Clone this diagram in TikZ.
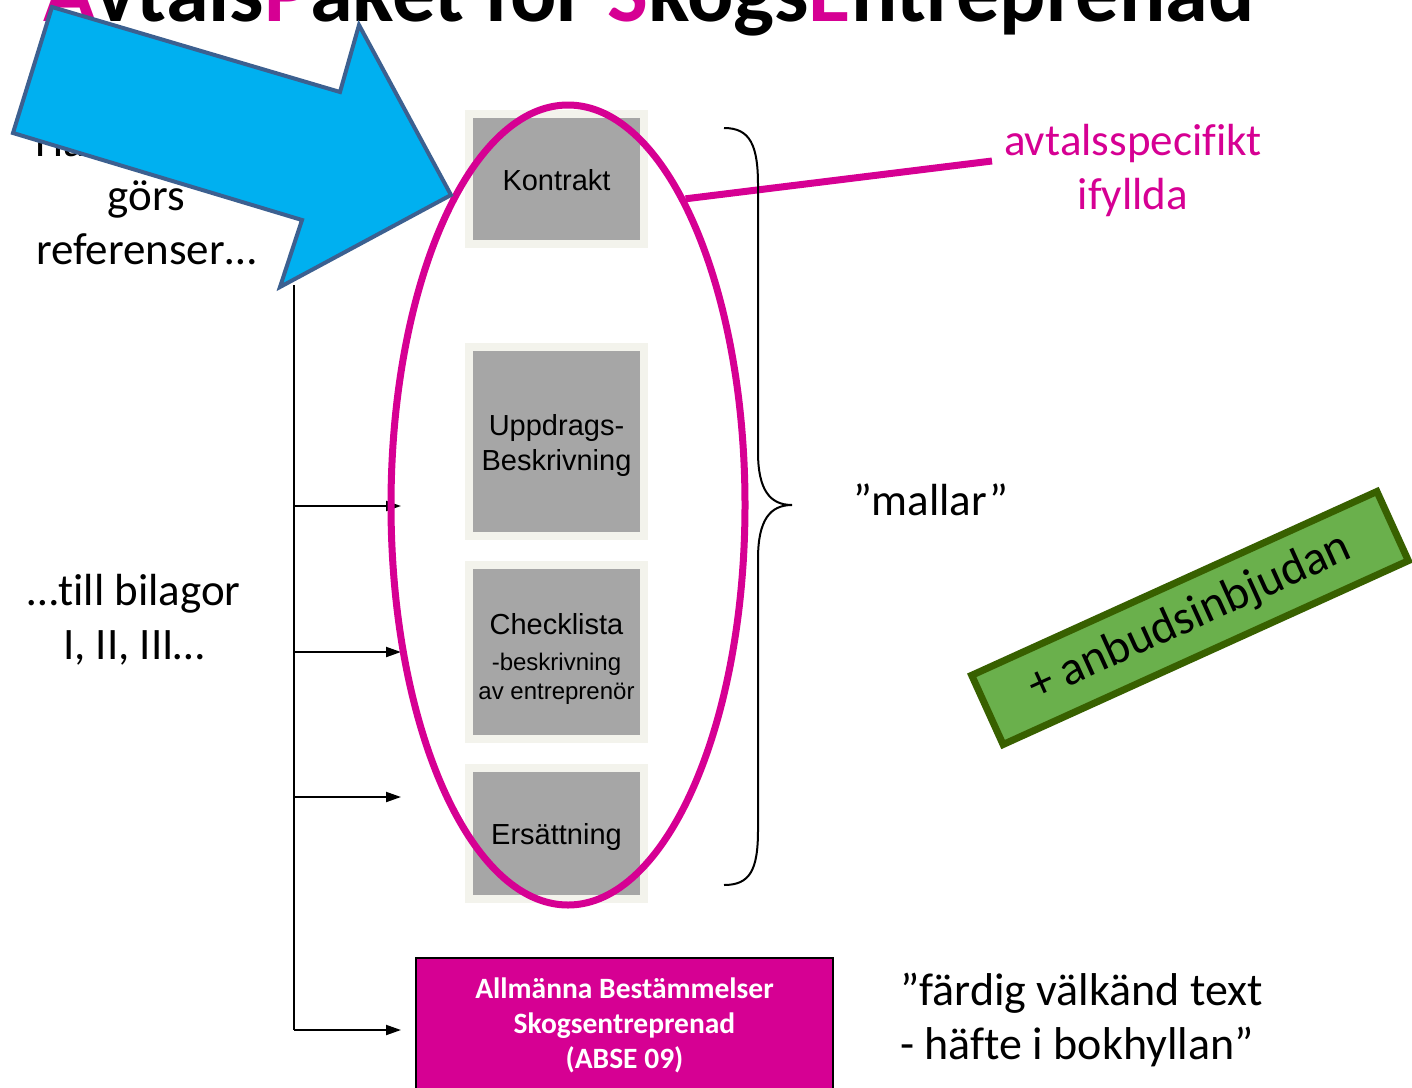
\documentclass[tikz,border=0pt]{standalone}
\usepackage{fontspec}
\setmainfont[Ligatures=NoCommon]{Carlito}
\newfontfamily\arialf{Liberation Sans}
\usetikzlibrary{arrows.meta,shapes.geometric}
\definecolor{mag}{RGB}{214,0,147}
\definecolor{arrowfill}{RGB}{0,176,240}
\definecolor{arrowline}{RGB}{60,96,144}
\definecolor{gfill}{RGB}{106,176,76}
\definecolor{gline}{RGB}{56,96,0}
\definecolor{framecol}{RGB}{243,243,236}
\definecolor{boxgrey}{RGB}{166,166,166}
\begin{document}
\begin{tikzpicture}[x=1pt,y=-1pt,
  doc/.style={draw=framecol, line width=8pt, fill=boxgrey, minimum width=175pt, inner sep=0pt},
  doctxt/.style={align=center, inner sep=0pt, font=\arialf\fontsize{29}{35}\selectfont},
  link/.style={line width=2pt, -{Triangle[length=15pt,width=10pt]}},
  txt/.style={align=center, font=\fontsize{45}{54}\selectfont, inner sep=0pt}
]
\useasboundingbox (0,0) rectangle (1412,1087);
\clip (0,0) rectangle (1412,1087);

% title
\node[anchor=base west, inner sep=0pt, font=\bfseries\fontsize{86.4}{100}\selectfont] (title) at (43,21)
  {{\color{mag}A}vtals{\color{mag}P}aket för {\color{mag}S}kogs{\color{mag}E}ntreprenad};

% left texts
\node[txt] (ref) at (146,195) {Här i avtalet\\görs\\referenser…};
\node[txt] (bil) at (134,620) {…till bilagor\\I, II, III…};

% trunk and arrows
\coordinate (t0) at (294,285);
\coordinate (t1) at (294,506);
\coordinate (t2) at (294,652);
\coordinate (t3) at (294,797);
\coordinate (t4) at (294,1030);
\coordinate (e1) at (401,506);
\coordinate (e2) at (401,652);
\coordinate (e3) at (401,797);
\draw[line width=2pt] (t0) -- (t4);
\draw[link] (t1) -- (e1);
\draw[link] (t2) -- (e2);
\draw[link] (t3) -- (e3);

% document boxes
\node[doc, minimum height=130pt] (kontrakt) at (556.5,179) {};
\node[doc, minimum height=189pt] (uppdrag) at (556.5,441.5) {};
\node[doc, minimum height=174pt] (check) at (556.5,652) {};
\node[doc, minimum height=131pt] (ersatt) at (556.5,833.5) {};
\node[doctxt] (kontrakttxt) at (556.5,180) {Kontrakt};
\node[doctxt] (uppdragtxt) at (556.5,445) {Uppdrags-\\Beskrivning};
\node[doctxt] (checktxt) at (556.5,659) {Checklista\\[1pt]{\fontsize{24}{30}\selectfont -beskrivning}\\[-6pt]{\fontsize{24}{30}\selectfont av entreprenör}};
\node[doctxt] (ersatttxt) at (556.5,837) {Ersättning};

% ellipse
\node[ellipse, draw=mag, line width=7pt, minimum width=354pt, minimum height=800pt, inner sep=0pt] (ring) at (568,505) {};

% callout
\node[txt, text=mag] (spec) at (1133,170) {avtalsspecifikt\\ifyllda};
\coordinate (callend) at (992,161);
\draw[mag, line width=7pt] (ring.69) -- (callend);

% brace
\coordinate (b0) at (724,128);
\coordinate (btip) at (792,505);
\coordinate (b1) at (724,885);
\draw[line width=2pt] (b0) .. controls (750,128) and (758,145) .. (758,185) -- (758,452)
  .. controls (758,490) and (770,505) .. (btip)
  .. controls (770,505) and (758,520) .. (758,559) -- (758,830)
  .. controls (758,870) and (750,885) .. (b1);
\node[txt] (mallar) at (931,500) {”mallar”};

% green box
\node[draw=gline, fill=gfill, line width=7pt, rotate=24.4, minimum width=445pt, minimum height=76pt, font=\fontsize{48}{54}\selectfont] (anbud) at (1190,618) {+ anbudsinbjudan};

% ABSE
\node[draw=black, line width=2pt, fill=mag, minimum width=417pt, minimum height=134pt, inner sep=0pt, anchor=north west, align=center, text=white, font=\bfseries\fontsize{29.5}{35}\selectfont] (abse) at (415,957) {Allmänna Bestämmelser\\Skogsentreprenad\\(ABSE 09)};
\draw[link, shorten >=14pt] (t4) -- (t4 -| abse.west);
\node[txt, align=left, anchor=west, font=\fontsize{46}{54}\selectfont] (fard) at (900,1020) {”färdig välkänd text\\- häfte i bokhyllan”};

% blue arrow
\draw[arrowline, fill=arrowfill, line width=4pt, line join=miter] (52,7) -- (340,92) -- (359,25) -- (451,195) -- (280,287) -- (302,220) -- (13,133) -- cycle;
\end{tikzpicture}
\end{document}
